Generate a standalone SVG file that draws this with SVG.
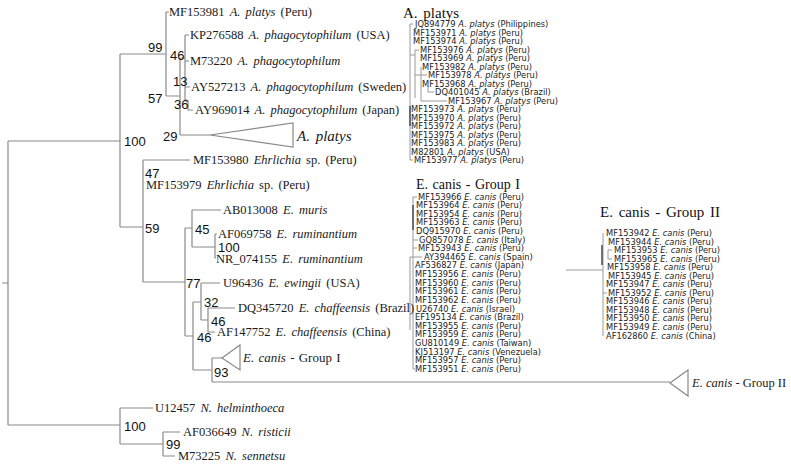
<svg xmlns="http://www.w3.org/2000/svg" width="791" height="465" viewBox="0 0 791 465">
<style>
.ln{stroke:#8a8a8a;stroke-width:1.2;fill:none}
.dl{stroke:#9a9a9a;stroke-width:1;fill:none}
.dk{stroke:#555;stroke-width:1.6;fill:none}
.lb{font-family:"Liberation Serif",serif;font-size:12.5px;word-spacing:2px;fill:#1a1a1a}
.bs{font-family:"Liberation Sans",sans-serif;font-size:13px;fill:#111}
.dt{font-family:"DejaVu Sans",sans-serif;font-size:8.3px;fill:#222}
.tt{font-family:"Liberation Serif",serif;font-size:15px;word-spacing:2px;fill:#111}
.i{font-style:italic}
</style>
<g id="connectors">
<path class="ln" d="M2 283H8M8 141V425M8 141H120M120 54V227M120 54H166M166 12V96M166 12H169M166 96H180M180 58V135M180 58H185M185 35V100M185 35H189M185 61H189M185 87H190M185 100H188M188 100V110H193M180 135H210"/>
<path class="ln" d="M210 135L293 123V147Z"/>
<path class="ln" d="M120 227H143M143 160V282M143 160H190M143 282H185M185 228V336M185 228H192M192 210V247M192 210H221M192 247H215M215 234V258M215 234H217M215 258H216"/>
<path class="ln" d="M201 283H220M201 283V320M193 302H201M201 320H208M208 308V332M208 308H235M208 332H215"/>
<path class="ln" d="M185 336H193M193 302V370M193 370H212M212 358V382M212 358H222M212 382H670"/>
<path class="ln" d="M222 358L240 345V370Z"/>
<path class="ln" d="M670 383L688 370V396Z"/>
<path class="ln" d="M8 425H120M120 408V444M120 408H153M120 444H163M163 432V456M163 432H180M163 456H175"/>
<path class="dl" d="M410 24V160M410 24H413M410 160H413M410 55H415M415 50V98M415 50H419M415 75H421M421 67V101M421 75H427M421 101H447M428 86V92H434"/>
<path class="dk" d="M410 106V126"/>
<path class="dl" d="M413 197V369M413 197H417M413 240H418M413 248H417M410 257V330M410 257H422M413 369H415"/>
<path class="dk" d="M413 205V230"/>
<path class="dl" d="M603 233V336M566 270H603M608 250V259M608 250H612M608 259H612M603 293H607"/>
<path class="dk" d="M602 245V265"/>
</g>
<g id="bootstrap">
<text class="bs" x="148" y="52">99</text>
<text class="bs" x="170" y="60">46</text>
<text class="bs" x="173" y="86">13</text>
<text class="bs" x="148" y="103">57</text>
<text class="bs" x="174" y="109">36</text>
<text class="bs" x="163" y="141">29</text>
<text class="bs" x="124" y="146">100</text>
<text class="bs" x="145" y="178">47</text>
<text class="bs" x="145" y="233">59</text>
<text class="bs" x="195" y="234">45</text>
<text class="bs" x="218" y="252">100</text>
<text class="bs" x="186" y="288">77</text>
<text class="bs" x="204" y="307">32</text>
<text class="bs" x="211" y="326">46</text>
<text class="bs" x="197" y="342">46</text>
<text class="bs" x="214" y="377">93</text>
<text class="bs" x="124" y="431">100</text>
<text class="bs" x="166" y="449">99</text>
</g>
<g id="leaves">
<text id="MF153981" class="lb" x="169" y="16">MF153981 <tspan class="i">A. platys</tspan> (Peru)</text>
<text id="KP276588" class="lb" x="190" y="39">KP276588 <tspan class="i">A. phagocytophilum</tspan> (USA)</text>
<text id="M73220" class="lb" x="190" y="65">M73220 <tspan class="i">A. phagocytophilum</tspan></text>
<text id="AY527213" class="lb" x="191" y="91">AY527213 <tspan class="i">A. phagocytophilum</tspan> (Sweden)</text>
<text id="AY969014" class="lb" x="195" y="114">AY969014 <tspan class="i">A. phagocytophilum</tspan> (Japan)</text>
<text id="MF153980" class="lb" x="193" y="164">MF153980 <tspan class="i">Ehrlichia</tspan> sp. (Peru)</text>
<text id="MF153979" class="lb" x="146" y="189">MF153979 <tspan class="i">Ehrlichia</tspan> sp. (Peru)</text>
<text id="AB013008" class="lb" x="223" y="214">AB013008 <tspan class="i">E. muris</tspan></text>
<text id="AF069758" class="lb" x="218" y="238">AF069758 <tspan class="i">E. ruminantium</tspan></text>
<text id="NR_074155" class="lb" x="216" y="263">NR_074155 <tspan class="i">E. ruminantium</tspan></text>
<text id="U96436" class="lb" x="223" y="287">U96436 <tspan class="i">E. ewingii</tspan> (USA)</text>
<text id="DQ345720" class="lb" x="238" y="312">DQ345720 <tspan class="i">E. chaffeensis</tspan> (Brazil)</text>
<text id="AF147752" class="lb" x="217" y="336">AF147752 <tspan class="i">E. chaffeensis</tspan> (China)</text>
<text id="U12457" class="lb" x="155" y="412">U12457 <tspan class="i">N. helminthoeca</tspan></text>
<text id="AF036649" class="lb" x="183" y="436">AF036649 <tspan class="i">N. risticii</tspan></text>
<text id="M73225" class="lb" x="178" y="460">M73225 <tspan class="i">N. sennetsu</tspan></text>
</g>
<g id="collapsed">
<text id="c-aplatys" class="lb i" x="297" y="141" style="font-size:15px">A. platys</text>
<text id="c-groupI" class="lb" x="243" y="362" style="font-size:13px;word-spacing:1px"><tspan class="i">E. canis</tspan> - Group I</text>
<text id="c-groupII" class="lb" x="692" y="387" style="font-size:12.5px;word-spacing:0"><tspan class="i">E. canis</tspan> - Group II</text>
</g>
<g id="panel-aplatys">
<text class="tt" x="403" y="18">A. platys</text>
<text class="dt" x="415" y="27">JQ894779 <tspan class="i">A. platys</tspan> (Philippines)</text>
<text class="dt" x="413" y="36">MF153971 <tspan class="i">A. platys</tspan> (Peru)</text>
<text class="dt" x="413" y="44">MF153974 <tspan class="i">A. platys</tspan> (Peru)</text>
<text class="dt" x="420" y="53">MF153976 <tspan class="i">A. platys</tspan> (Peru)</text>
<text class="dt" x="420" y="61">MF153969 <tspan class="i">A. platys</tspan> (Peru)</text>
<text class="dt" x="422" y="70">MF153982 <tspan class="i">A. platys</tspan> (Peru)</text>
<text class="dt" x="428" y="78">MF153978 <tspan class="i">A. platys</tspan> (Peru)</text>
<text class="dt" x="422" y="87">MF153968 <tspan class="i">A. platys</tspan> (Peru)</text>
<text class="dt" x="435" y="95">DQ401045 <tspan class="i">A. platys</tspan> (Brazil)</text>
<text class="dt" x="448" y="104">MF153967 <tspan class="i">A. platys</tspan> (Peru)</text>
<text class="dt" x="411" y="112">MF153973 <tspan class="i">A. platys</tspan> (Peru)</text>
<text class="dt" x="411" y="121">MF153970 <tspan class="i">A. platys</tspan> (Peru)</text>
<text class="dt" x="411" y="129">MF153972 <tspan class="i">A. platys</tspan> (Peru)</text>
<text class="dt" x="411" y="138">MF153975 <tspan class="i">A. platys</tspan> (Peru)</text>
<text class="dt" x="411" y="146">MF153983 <tspan class="i">A. platys</tspan> (Peru)</text>
<text class="dt" x="411" y="155">M82801 <tspan class="i">A. platys</tspan> (USA)</text>
<text class="dt" x="414" y="163">MF153977 <tspan class="i">A. platys</tspan> (Peru)</text>
</g>
<g id="panel-groupI">
<text class="tt" x="416" y="189" style="font-size:14px;word-spacing:1px">E. canis - Group I</text>
<text class="dt" x="418" y="200">MF153966 <tspan class="i">E. canis</tspan> (Peru)</text>
<text class="dt" x="416" y="208">MF153964 <tspan class="i">E. canis</tspan> (Peru)</text>
<text class="dt" x="416" y="217">MF153954 <tspan class="i">E. canis</tspan> (Peru)</text>
<text class="dt" x="416" y="225">MF153963 <tspan class="i">E. canis</tspan> (Peru)</text>
<text class="dt" x="416" y="234">DQ915970 <tspan class="i">E. canis</tspan> (Peru)</text>
<text class="dt" x="419" y="243">GQ857078 <tspan class="i">E. canis</tspan> (Italy)</text>
<text class="dt" x="418" y="251">MF153943 <tspan class="i">E. canis</tspan> (Peru)</text>
<text class="dt" x="424" y="260">AY394465 <tspan class="i">E. canis</tspan> (Spain)</text>
<text class="dt" x="415" y="268">AF536827 <tspan class="i">E. canis</tspan> (Japan)</text>
<text class="dt" x="415" y="277">MF153956 <tspan class="i">E. canis</tspan> (Peru)</text>
<text class="dt" x="415" y="286">MF153960 <tspan class="i">E. canis</tspan> (Peru)</text>
<text class="dt" x="415" y="294">MF153961 <tspan class="i">E. canis</tspan> (Peru)</text>
<text class="dt" x="415" y="303">MF153962 <tspan class="i">E. canis</tspan> (Peru)</text>
<text class="dt" x="416" y="312">U26740 <tspan class="i">E. canis</tspan> (Israel)</text>
<text class="dt" x="415" y="320">EF195134 <tspan class="i">E. canis</tspan> (Brazil)</text>
<text class="dt" x="415" y="329">MF153955 <tspan class="i">E. canis</tspan> (Peru)</text>
<text class="dt" x="415" y="337">MF153959 <tspan class="i">E. canis</tspan> (Peru)</text>
<text class="dt" x="415" y="346">GU810149 <tspan class="i">E. canis</tspan> (Taiwan)</text>
<text class="dt" x="415" y="355">KJ513197 <tspan class="i">E. canis</tspan> (Venezuela)</text>
<text class="dt" x="415" y="363">MF153957 <tspan class="i">E. canis</tspan> (Peru)</text>
<text class="dt" x="415" y="372">MF153951 <tspan class="i">E. canis</tspan> (Peru)</text>
</g>
<g id="panel-groupII">
<text class="tt" x="600" y="217">E. canis - Group II</text>
<text class="dt" x="606" y="236">MF153942 <tspan class="i">E. canis</tspan> (Peru)</text>
<text class="dt" x="608" y="245">MF153944 <tspan class="i">E. canis</tspan> (Peru)</text>
<text class="dt" x="614" y="253">MF153953 <tspan class="i">E. canis</tspan> (Peru)</text>
<text class="dt" x="614" y="262">MF153965 <tspan class="i">E. canis</tspan> (Peru)</text>
<text class="dt" x="607" y="270">MF153958 <tspan class="i">E. canis</tspan> (Peru)</text>
<text class="dt" x="608" y="279">MF153945 <tspan class="i">E. canis</tspan> (Peru)</text>
<text class="dt" x="606" y="287">MF153947 <tspan class="i">E. canis</tspan> (Peru)</text>
<text class="dt" x="608" y="296">MF153952 <tspan class="i">E. canis</tspan> (Peru)</text>
<text class="dt" x="606" y="304">MF153946 <tspan class="i">E. canis</tspan> (Peru)</text>
<text class="dt" x="606" y="313">MF153948 <tspan class="i">E. canis</tspan> (Peru)</text>
<text class="dt" x="606" y="321">MF153950 <tspan class="i">E. canis</tspan> (Peru)</text>
<text class="dt" x="606" y="330">MF153949 <tspan class="i">E. canis</tspan> (Peru)</text>
<text class="dt" x="606" y="339">AF162860 <tspan class="i">E. canis</tspan> (China)</text>
</g>
</svg>
